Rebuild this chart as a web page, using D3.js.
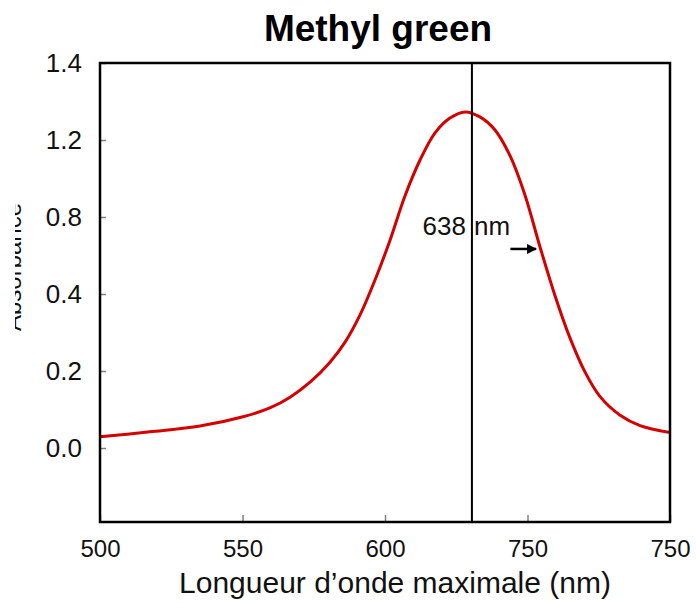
<!DOCTYPE html>
<html>
<head>
<meta charset="utf-8">
<script src="https://cdn.jsdelivr.net/npm/d3@7/dist/d3.min.js"></script>
<style>
  body { margin: 0; background: #fff; }
  text { font-family: "Liberation Sans", Arial, Helvetica, sans-serif; }
</style>
</head>
<body>
<svg id="chart" width="696" height="604"></svg>
<script>
// ---- data ----
const title = "Methyl green";
const xLabel = "Longueur d’onde maximale (nm)";
const yLabel = "Absorbance";
const xTicks = [500, 550, 600, 650, 700];
const xTickLabels = ["500", "550", "600", "750", "750"];
const yTicks = [0.0, 0.2, 0.4, 0.8, 1.2, 1.4];
const yTickLabels = ["0.0", "0.2", "0.4", "0.8", "1.2", "1.4"];
const wavelength = [500, 517.5, 535.1, 550.2, 559.6, 566.7, 573.7, 580.7, 586, 591.2, 596.5, 601.8, 607, 612.3, 617.5, 622.8, 628.1, 633.3, 638.6, 643.9, 649.1, 654.4, 659.6, 664.9, 670.2, 675.4, 682.5, 689.5, 700];
const absorbance = [0.029, 0.042, 0.057, 0.081, 0.104, 0.132, 0.171, 0.223, 0.275, 0.345, 0.473, 0.681, 0.909, 1.096, 1.218, 1.257, 1.273, 1.260, 1.226, 1.117, 0.914, 0.644, 0.397, 0.286, 0.197, 0.134, 0.085, 0.058, 0.040];
const markerWavelength = 630.5;
const markerLabel = ["638", "nm"];
const arrowFrom = [644, 0.634];
const arrowTo = [653, 0.634];

// ---- layout ----
const W = 696, H = 604;
const m = { top: 63, right: 26, bottom: 82, left: 100 };
const iw = W - m.left - m.right, ih = H - m.top - m.bottom;
const bottomPad = 74;
const step = (ih - bottomPad) / (yTicks.length - 1);

const svg = d3.select("#chart");
const defs = svg.append("defs");
defs.append("clipPath").attr("id", "plotclip").append("rect")
  .attr("width", iw).attr("height", ih);
defs.append("clipPath").attr("id", "ylabclip").append("rect")
  .attr("x", 15).attr("y", 0).attr("width", 40).attr("height", H);
defs.append("marker").attr("id", "arrowhead")
  .attr("viewBox", "0 0 10 10").attr("refX", 9).attr("refY", 5)
  .attr("markerWidth", 10).attr("markerHeight", 10).attr("markerUnits", "userSpaceOnUse")
  .attr("orient", "auto")
  .append("path").attr("d", "M0,0 L10,5 L0,10 Z").attr("fill", "#000");

const g = svg.append("g").attr("transform", `translate(${m.left},${m.top})`);

const x = d3.scaleLinear().domain([xTicks[0], xTicks[xTicks.length - 1]]).range([0, iw]);
const y = d3.scaleLinear().domain(yTicks)
  .range(yTicks.map((d, i) => ih - bottomPad - i * step));

// axes (inner ticks)
const xAxis = g.append("g").attr("transform", `translate(0,${ih})`)
  .call(d3.axisBottom(x).tickValues(xTicks).tickSize(-7).tickPadding(18)
    .tickFormat((d, i) => xTickLabels[i]));
const yAxis = g.append("g")
  .call(d3.axisLeft(y).tickValues(yTicks).tickSize(-6).tickPadding(18)
    .tickFormat((d, i) => yTickLabels[i]));
[xAxis, yAxis].forEach(a => {
  a.select(".domain").remove();
  a.selectAll(".tick line").attr("stroke", "#808080").attr("stroke-width", 1.5);
  a.selectAll(".tick text").attr("fill", "#111");
});
xAxis.selectAll(".tick text").attr("font-size", 24);
yAxis.selectAll(".tick text").attr("font-size", 26);

// curve
const pts = wavelength.map((w, i) => [w, absorbance[i]]);
g.append("path").datum(pts)
  .attr("clip-path", "url(#plotclip)")
  .attr("fill", "none").attr("stroke", "#d40000").attr("stroke-width", 3)
  .attr("d", d3.line().x(d => x(d[0])).y(d => y(d[1])).curve(d3.curveCatmullRom.alpha(0.5)));

// marker line
g.append("line")
  .attr("x1", x(markerWavelength)).attr("x2", x(markerWavelength))
  .attr("y1", 0).attr("y2", ih).attr("stroke", "#000").attr("stroke-width", 2);

// marker label
g.append("text").attr("x", x(markerWavelength) - 6).attr("y", 172)
  .attr("text-anchor", "end").attr("font-size", 26).attr("fill", "#111").text(markerLabel[0]);
g.append("text").attr("x", x(markerWavelength) + 2).attr("y", 172)
  .attr("text-anchor", "start").attr("font-size", 26).attr("fill", "#111").text(markerLabel[1]);

// arrow
g.append("line")
  .attr("x1", x(arrowFrom[0])).attr("y1", y(arrowFrom[1]))
  .attr("x2", x(arrowTo[0])).attr("y2", y(arrowTo[1]))
  .attr("stroke", "#000").attr("stroke-width", 2.5).attr("marker-end", "url(#arrowhead)");

// frame
g.append("rect").attr("width", iw).attr("height", ih)
  .attr("fill", "none").attr("stroke", "#000").attr("stroke-width", 2.5);

// title
svg.append("text").attr("x", 378).attr("y", 41).attr("text-anchor", "middle")
  .attr("font-size", 37).attr("font-weight", "bold").attr("fill", "#000").text(title);

// x label
svg.append("text").attr("x", m.left + iw / 2 + 10).attr("y", 593).attr("text-anchor", "middle")
  .attr("font-size", 30).attr("fill", "#111").text(xLabel);

// y label (clipped, as in reference)
svg.append("g").attr("clip-path", "url(#ylabclip)")
  .append("text").attr("transform", "translate(21,267) rotate(-90)")
  .attr("text-anchor", "middle").attr("font-size", 24).attr("fill", "#111").text(yLabel);
</script>
</body>
</html>
